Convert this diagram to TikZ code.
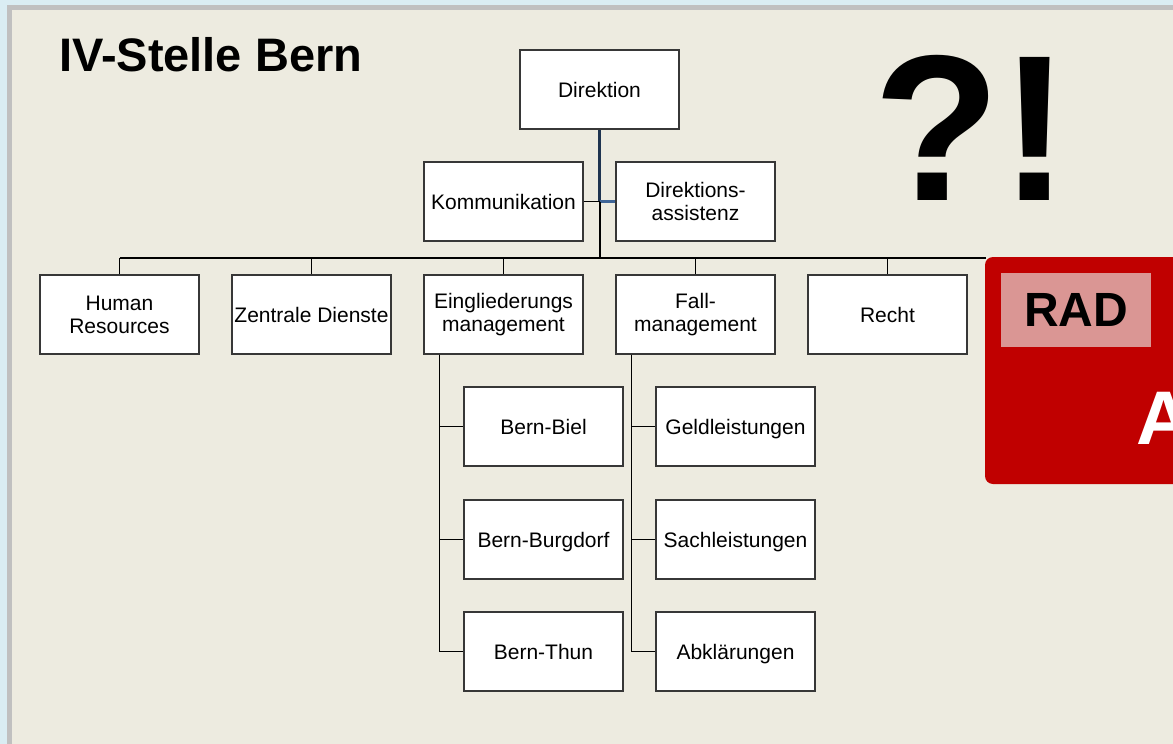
\documentclass[tikz,border=0pt]{standalone}
\usepackage{fontspec}
\setmainfont{Liberation Sans}
\usetikzlibrary{calc}

\begin{document}
\begin{tikzpicture}[x=1pt,y=-1pt,font=\fontsize{21}{23}\selectfont]
\definecolor{frameblue}{RGB}{218,237,243}
\definecolor{framegray}{RGB}{192,192,192}
\definecolor{panel}{RGB}{237,235,224}
\definecolor{boxline}{RGB}{55,55,55}
\definecolor{radred}{RGB}{192,0,0}
\definecolor{radpink}{RGB}{218,150,148}
\definecolor{linkblue}{RGB}{63,101,151}
\definecolor{linknavy}{RGB}{31,52,80}

\tikzset{
  unit/.style={draw=boxline,line width=1.3pt,fill=white,
    minimum width=159pt,minimum height=79pt,inner sep=1pt,align=center},
  oneline/.style={unit,text depth=0pt},
  conn/.style={line width=1.3pt,black}
}

\useasboundingbox (0,0) rectangle (1173,744);
\clip (0,0) rectangle (1173,744);

% frame and slide background
\fill[frameblue] (0,0) rectangle (1173,744);
\fill[framegray] (7,5) rectangle (1173,744);
\fill[panel] (12,10) rectangle (1173,744);

\node[anchor=base west,inner sep=0,font=\bfseries\fontsize{47}{47}\selectfont]
  (title) at (59,71) {IV-Stelle Bern};
\node[anchor=base west,inner sep=0,font=\bfseries\fontsize{208}{208}\selectfont]
  (mark) at (873,200) {?!};

% top level
\node[oneline] (dir) at (599.5,89.5) {Direktion};
\node[oneline] (kom) at (503.5,201.5) {Kommunikation};
\node[unit] (ass) at (695.5,201.5) {Direktions-\\assistenz};

% departments
\node[unit] (hr) at (119.5,314.5) {Human\\Resources};
\node[oneline] (zd) at (311.5,314.5) {Zentrale Dienste};
\node[unit] (em) at (503.5,314.5) {Eingliederungs\\management};
\node[unit] (fm) at (695.5,314.5) {Fall-\\management};
\node[oneline] (recht) at (887.5,314.5) {Recht};

% regional offices and case units
\node[oneline] (biel) at (543.5,426.5) {Bern-Biel};
\node[oneline] (burg) at (543.5,539.5) {Bern-Burgdorf};
\node[oneline] (thun) at (543.5,651.5) {Bern-Thun};
\node[oneline] (geld) at (735.5,426.5) {Geldleistungen};
\node[oneline] (sach) at (735.5,539.5) {Sachleistungen};
\node[oneline] (abkl) at (735.5,651.5) {Abklärungen};

\coordinate (bus) at (599.5,258);
\coordinate (busend) at (986,258);

% connectors
\draw[linknavy,line width=3pt] (dir.south) -- (dir.south |- ass.west);
\draw[linkblue,line width=3pt] (dir.south |- ass.west) -- (ass.west);
\draw[conn] (kom.east) -- (dir.south |- kom.east);
\draw[line width=2pt] (dir.south |- ass.west) -- (bus);
\draw[conn] (hr.north |- bus) -- (busend);
\foreach \n in {hr,zd,em,fm,recht}{
  \draw[conn] (\n.north) -- (\n.north |- bus);
}
\foreach \n in {biel,burg,thun}{
  \draw[conn] ([xshift=16pt]em.south west) |- (\n.west);
}
\foreach \n in {geld,sach,abkl}{
  \draw[conn] ([xshift=16pt]fm.south west) |- (\n.west);
}

% RAD panel
\fill[radred,rounded corners=8pt] (985,257) rectangle (1200,484);
\node[fill=radpink,minimum width=150pt,minimum height=74pt,inner sep=0,
  font=\bfseries\fontsize{48}{48}\selectfont] (rad) at (1076,310) {RAD};
\node[anchor=base west,inner sep=0,text=white,
  font=\bfseries\fontsize{76}{76}\selectfont] (radA) at (1136,444) {A};
\end{tikzpicture}
\end{document}
